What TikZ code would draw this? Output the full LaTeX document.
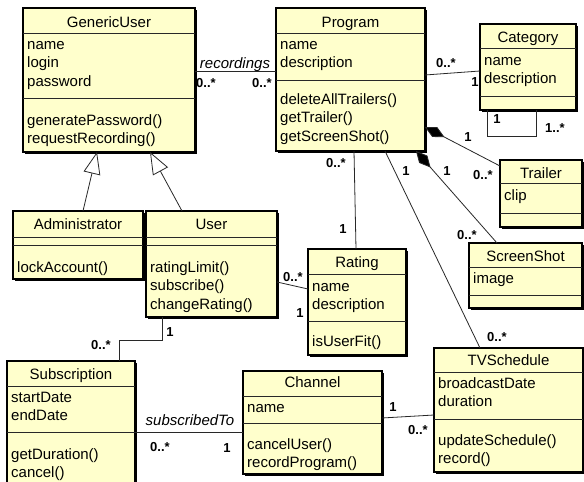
\documentclass[tikz,border=0pt]{standalone}
\usepackage{fontspec}
\setmainfont{Liberation Sans}
\usetikzlibrary{arrows.meta,calc}
\definecolor{umly}{RGB}{255,255,204}
\definecolor{umlline}{RGB}{40,40,40}
\tikzset{
  classbox/.style={draw=black, line width=1.1pt, fill=umly, inner sep=0pt, outer sep=0pt},
  boxshadow/.style={draw=black, line width=1pt},
  sepline/.style={draw=umlline, line width=0.8pt},
  txt/.style={font=\fontsize{15}{18}\selectfont, inner sep=0pt, anchor=base west},
  titletxt/.style={font=\fontsize{15}{18}\selectfont, inner sep=0pt, anchor=base},
  rolename/.style={font=\itshape\fontsize{15}{18}\selectfont, inner sep=0pt, anchor=base},
  mult/.style={font=\bfseries\fontsize{13}{15}\selectfont, inner sep=0pt},
  assoc/.style={draw=umlline, line width=0.8pt},
  compo/.style={assoc, {Diamond[length=22pt,width=11pt,fill=black]}-},
  gener/.style={assoc, -{Triangle[open,length=22pt,width=17pt,fill=white]}},
}
% name, x1, y1, x2, y2, sep1, sep2
\newcommand\umlbox[7]{%
  \node[classbox, minimum width={(#4-#2)*1pt}, minimum height={(#5-#3)*1pt}] (#1) at ({(#2+#4)/2},{(#3+#5)/2}) {};
  \draw[boxshadow] ({#4+1},{#3+2}) -- ({#4+1},{#5+1}) -- ({#2+2},{#5+1});
  \draw[sepline] (#2,#6) -- (#4,#6);
  \draw[sepline] (#2,#7) -- (#4,#7);
}
% name, center x, baseline, text
\newcommand\umltitle[4]{\node[titletxt] (#1-t) at (#2,#3) {#4};}
% prefix, x, first baseline, list
\newcommand\umllines[4]{%
  \foreach \s [count=\i] in {#4} {\node[txt] (#1\i) at ({#2},{#3+(\i-1)*18.7}) {\s};}%
}
\begin{document}
\begin{tikzpicture}[x=1pt,y=-1pt]
\fill[white] (0,0) rectangle (584,482);
\clip (0,0) rectangle (584,482);

% GenericUser
\umlbox{gu}{23}{8}{195}{152}{33}{98}
\umltitle{gu}{109}{27}{GenericUser}
\umllines{gu-a}{27}{49}{name,login,password}
\umllines{gu-o}{27}{125}{generatePassword(),requestRecording()}

% Program
\umlbox{prog}{276}{8}{425}{151}{33}{80}
\umltitle{prog}{350.5}{27}{Program}
\umllines{prog-a}{280}{49}{name,description}
\umllines{prog-o}{280}{104}{deleteAllTrailers(),getTrailer(),getScreenShot()}

% Category
\umlbox{cat}{480}{24}{576}{110}{48}{96}
\umltitle{cat}{528}{42}{Category}
\umllines{cat-a}{484}{65}{name,description}

% Trailer
\umlbox{trl}{500}{160}{582}{227}{183}{213}
\umltitle{trl}{541}{178}{Trailer}
\umllines{trl-a}{504}{200}{clip}

% ScreenShot
\umlbox{scr}{469}{243}{582}{308}{267}{295}
\umltitle{scr}{525.5}{261}{ScreenShot}
\umllines{scr-a}{473}{283}{image}

% Rating
\umlbox{rat}{308}{249}{406}{355}{274}{321}
\umltitle{rat}{357}{267}{Rating}
\umllines{rat-a}{312}{291}{name,description}
\umllines{rat-o}{312}{346}{isUserFit()}

% Administrator
\umlbox{adm}{13}{211}{143}{279}{237}{245}
\umltitle{adm}{78}{229}{Administrator}
\umllines{adm-o}{17}{272}{lockAccount()}

% User
\umlbox{usr}{146}{211}{277}{317}{237}{245}
\umltitle{usr}{211.5}{229}{User}
\umllines{usr-o}{150}{272}{ratingLimit(),subscribe(),changeRating()}

% Subscription
\umlbox{sub}{7}{361}{135}{486}{386}{432}
\umltitle{sub}{71}{379}{Subscription}
\umllines{sub-a}{11}{402}{startDate,endDate}
\umllines{sub-o}{11}{459}{getDuration(),cancel()}

% Channel
\umlbox{chan}{243}{371}{382}{474}{396}{423}
\umltitle{chan}{312.5}{387}{Channel}
\umllines{chan-a}{247}{412}{name}
\umllines{chan-o}{247}{449}{cancelUser(),recordProgram()}

% TVSchedule
\umlbox{tvs}{434}{348}{583}{472}{372}{419}
\umltitle{tvs}{508.5}{365}{TVSchedule}
\umllines{tvs-a}{438}{388}{broadcastDate,duration}
\umllines{tvs-o}{438}{445}{updateSchedule(),record()}

% ---- connectors ----
\draw[assoc] (gu.east |- 0,71) -- (prog.west |- 0,71);
\node[rolename] (l-rec) at (235,68) {recordings};
\node[mult] (m-rec1) at (206,83) {0..*};
\node[mult] (m-rec2) at (262,83) {0..*};

\draw[assoc] (prog.east |- 0,75) -- (cat.west |- 0,71);
\node[mult] (m-cat1) at (446,63) {0..*};
\node[mult] (m-cat2) at (475,82) {1};

\draw[assoc] (cat.south -| 487,0) -- ++(0,26) -| (cat.south -| 536,0);
\node[mult] (m-self1) at (497,119) {1};
\node[mult] (m-self2) at (555,128) {1..*};

\draw[compo] (prog.east |- 0,127) -- (trl.west |- 0,166);
\node[mult] (m-trl1) at (468,137) {1};
\node[mult] (m-trl2) at (483,175) {0..*};

\draw[compo] (prog.south -| 416,0) -- (scr.north -| 497,0);
\node[mult] (m-scr1) at (447,171) {1};
\node[mult] (m-scr2) at (467,235) {0..*};

\draw[assoc] (prog.south -| 385,0) -- (tvs.north -| 480,0);
\node[mult] (m-tvs1) at (406,171) {1};
\node[mult] (m-tvs2) at (497,337) {0..*};

\draw[assoc] (prog.south -| 354,0) -- (rat.north -| 356,0);
\node[mult] (m-rat1) at (336,163) {0..*};
\node[mult] (m-rat2) at (343,229) {1};

\draw[assoc] (usr.east |- 0,282) -- (rat.west |- 0,289);
\node[mult] (m-ur1) at (293,277) {0..*};
\node[mult] (m-ur2) at (300,313) {1};

\draw[assoc] (usr.south -| 162,0) -- ++(0,23) -| (sub.north -| 119,0);
\node[mult] (m-us1) at (170,332) {1};
\node[mult] (m-us2) at (101,345) {0..*};

\draw[assoc] (sub.east |- 0,432) -- (chan.west |- 0,432);
\node[rolename] (l-sub) at (190,425) {subscribedTo};
\node[mult] (m-sc1) at (160,447) {0..*};
\node[mult] (m-sc2) at (227,448) {1};

\draw[assoc] (chan.east |- 0,418) -- (tvs.west |- 0,415);
\node[mult] (m-ct1) at (393,407) {1};
\node[mult] (m-ct2) at (418,430) {0..*};

\draw[gener] (adm.north -| 83,0) -- (gu.south -| 97,0);
\draw[gener] (usr.north -| 182,0) -- (gu.south -| 150,0);
\end{tikzpicture}
\end{document}
